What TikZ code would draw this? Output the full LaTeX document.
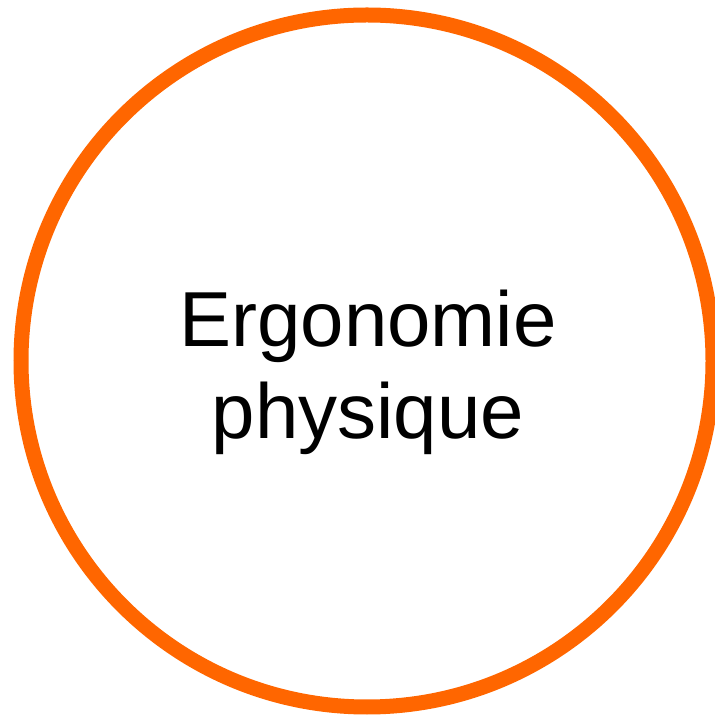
\documentclass[tikz,border=0pt]{standalone}
\usepackage{fontspec}
\setmainfont{Liberation Sans}
\definecolor{ringorange}{HTML}{FF6600}
\tikzset{
  ring/.style={draw=ringorange, line width=15pt, circle, minimum size=692pt, inner sep=0pt},
  label/.style={font=\fontsize{78}{92}\selectfont, text=black, inner sep=0pt, anchor=base}
}
\begin{document}
\begin{tikzpicture}[x=1pt,y=1pt]
\useasboundingbox (0,0) rectangle (715,715);
\begin{scope}
\clip (0,0) rectangle (715,715);
\node[ring] (circ) at (367,354) {};
\end{scope}
\node[label] (l1) at (368,368) {Ergonomie};
\node[label] (l2) at (368,276) {physique};
\end{tikzpicture}
\end{document}
